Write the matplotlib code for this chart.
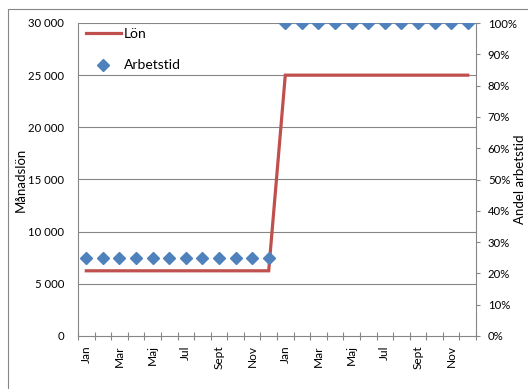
import matplotlib
matplotlib.use("Agg")
import matplotlib.pyplot as plt
from matplotlib.lines import Line2D
from matplotlib.patches import Rectangle
import numpy as np

plt.rcParams["font.family"] = ["Lato", "DejaVu Sans"]

# Månader för två år
months = ["Jan", "Feb", "Mar", "Apr", "Maj", "Jun", "Jul", "Aug", "Sept", "Okt", "Nov", "Dec",
          "Jan", "Feb", "Mar", "Apr", "Maj", "Jun", "Jul", "Aug", "Sept", "Okt", "Nov", "Dec"]
# Månadslön (kr)
lon = [6250, 6250, 6250, 6250, 6250, 6250, 6250, 6250, 6250, 6250, 6250, 6250,
       25000, 25000, 25000, 25000, 25000, 25000, 25000, 25000, 25000, 25000, 25000, 25000]
# Andel arbetstid
arbetstid = [0.25, 0.25, 0.25, 0.25, 0.25, 0.25, 0.25, 0.25, 0.25, 0.25, 0.25, 0.25,
             1.00, 1.00, 1.00, 1.00, 1.00, 1.00, 1.00, 1.00, 1.00, 1.00, 1.00, 1.00]
left_ticks = [0, 5000, 10000, 15000, 20000, 25000, 30000]
right_ticks = [0, 0.1, 0.2, 0.3, 0.4, 0.5, 0.6, 0.7, 0.8, 0.9, 1.0]

W, H = 528, 389
fig = plt.figure(figsize=(W / 100, H / 100), dpi=100)
gray = "#868686"
red = "#C0504D"
blue = "#4F81BD"

# Chart border (extends past the right and bottom edges)
fig.patches.append(Rectangle((7.5 / W, -0.2), 1.5, (H - 8.5) / H + 0.2,
                             transform=fig.transFigure, fill=False,
                             edgecolor=gray, linewidth=0.8))

x0, x1, yb, yt = 78, 476, 336, 23
ax = fig.add_axes([x0 / W, (H - yb) / H, (x1 - x0) / W, (yb - yt) / H])
ax2 = ax.twinx()

x = np.arange(len(months))

# Left axis: salary
ax.plot(x, lon, color=red, linewidth=2.3, solid_joinstyle="miter", zorder=3)
ax.set_ylim(0, 30000)
ax.set_xlim(-0.5, len(months) - 0.5)
ax.set_yticks(left_ticks)
ax.set_yticklabels([f"{v:,}".replace(",", " ") for v in left_ticks], fontsize=8.2)
ax.tick_params(axis="y", length=0, pad=10, colors="black")
for v in left_ticks[1:]:
    ax.axhline(v, color=gray, linewidth=0.8, zorder=1)

ax.set_xticks(np.arange(-0.5, len(months), 1.0))
ax.set_xticklabels([])
ax.tick_params(axis="x", which="major", direction="inout", length=6, color=gray, width=0.8)
ax.set_xticks(x[::2], minor=True)
ax.set_xticklabels(months[::2], minor=True, rotation=90, fontsize=8.6)
ax.tick_params(axis="x", which="minor", length=0, pad=6.5)

ax.set_ylabel("Månadslön", fontsize=9.5)
ax.yaxis.set_label_coords(-(x0 - 27) / (x1 - x0), 0.5)

for s in ["top", "right"]:
    ax.spines[s].set_visible(False)
for s in ["left", "bottom"]:
    ax.spines[s].set_color(gray)
    ax.spines[s].set_linewidth(0.8)

# Right axis: share of working time
ax2.plot(x, arbetstid, linestyle="none", marker="D", markersize=6.4,
         color=blue, zorder=4)
ax2.set_ylim(0, 1)
ax2.set_yticks(right_ticks)
ax2.set_yticklabels([f"{int(round(v * 100))}%" for v in right_ticks], fontsize=8.2)
ax2.tick_params(axis="y", direction="out", length=3, color=gray, width=0.8, pad=5.5)
for s in ["top", "left", "bottom"]:
    ax2.spines[s].set_visible(False)
ax2.spines["right"].set_color(gray)
ax2.spines["right"].set_linewidth(0.8)
ax2.set_ylabel("Andel arbetstid", fontsize=9.5, rotation=90)
ax2.yaxis.set_label_coords((514 - x0) / (x1 - x0), 0.5)

# Legend
handles = [Line2D([], [], color=red, linewidth=2.3),
           Line2D([], [], linestyle="none", marker="D", markersize=6.4, color=blue)]
ax2.legend(handles, ["Lön", "Arbetstid"], loc="upper left",
           bbox_to_anchor=((86 - x0) / (x1 - x0), (yb - 28) / (yb - yt)),
           frameon=False, fontsize=10, borderpad=0, borderaxespad=0,
           handlelength=2.5, handletextpad=0.25, labelspacing=1.4)

fig.savefig("out.png", dpi=100)
